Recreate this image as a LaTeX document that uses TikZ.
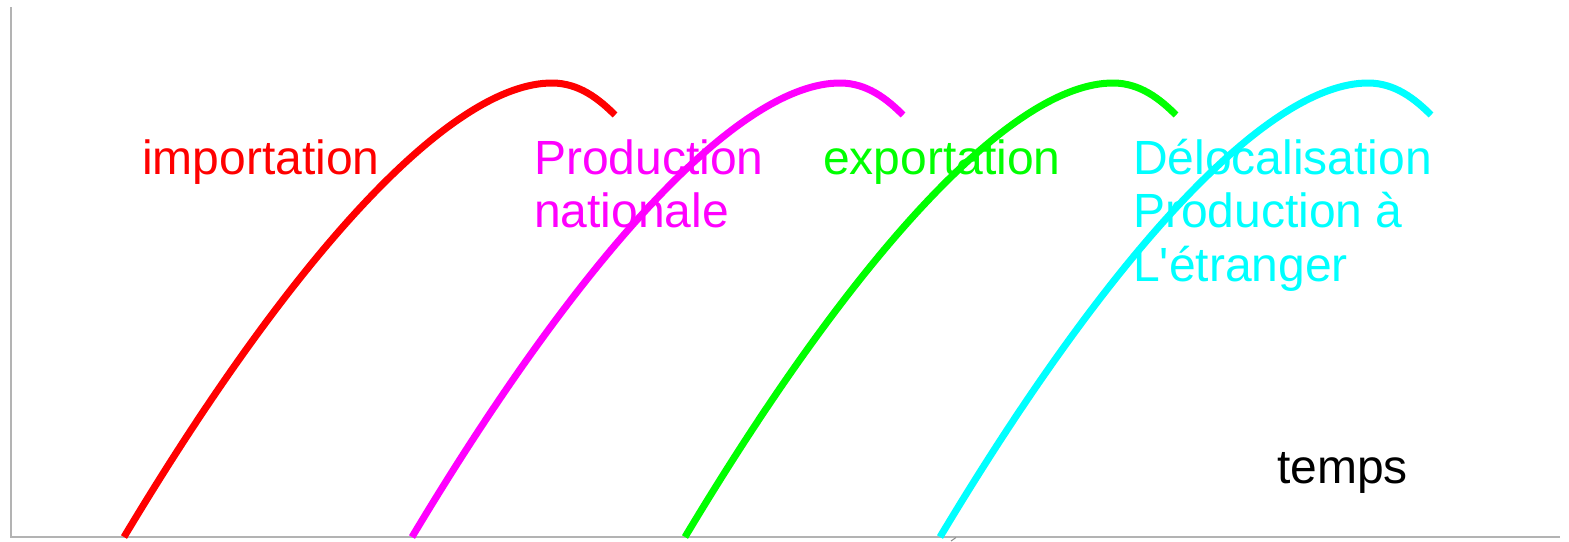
\documentclass[tikz,border=0pt]{standalone}
\usepackage{fontspec}
\setmainfont{Liberation Sans}
\definecolor{cRed}{RGB}{255,0,0}
\definecolor{cMag}{RGB}{255,0,255}
\definecolor{cGreen}{RGB}{0,255,0}
\definecolor{cCyan}{RGB}{0,255,255}
\definecolor{cAxis}{RGB}{179,179,179}
\begin{document}
\begin{tikzpicture}[x=1pt,y=-1pt,
  curve/.style={line width=7pt},
  axis/.style={draw=cAxis,line width=1.6pt},
  lbl/.style={anchor=base west,inner sep=0pt,align=left,font=\fontsize{48}{53.5}\selectfont}]
\useasboundingbox (0,0) rectangle (1569,541);
\fill[white] (0,0) rectangle (1569,541);
% axes
\coordinate (top) at (11,7);
\coordinate (origin) at (11,537);
\coordinate (xend) at (1560,537);
\draw[axis] (top) -- (origin) -- (xend);
\coordinate (tk1) at (951,541);
\coordinate (tk2) at (956,537.5);
\draw[black!45,line width=1pt] (tk1) -- (tk2);
% curves
\foreach \sx/\col in {124/cRed,412/cMag,685/cGreen,940/cCyan}
  \draw[curve,\col,shift={(\sx,537)}] (0,0) .. controls (175,-292) and (330,-454) .. (428,-454)
     .. controls (455,-454) and (475,-438) .. (491,-422);
% labels (base anchor = baseline of last line)
\node[lbl,text=cRed] (imp) at (142,174) {importation};
\node[lbl,text=cMag] (prod) at (534,227.5) {Production\\nationale};
\node[lbl,text=cGreen] (exp) at (823,174) {exportation};
\node[lbl,text=cCyan] (delo) at (1133,281) {Délocalisation\\Production à\\L\textquotesingle étranger};
\node[lbl,text=black] (temps) at (1277,483) {temps};
\end{tikzpicture}
\end{document}
